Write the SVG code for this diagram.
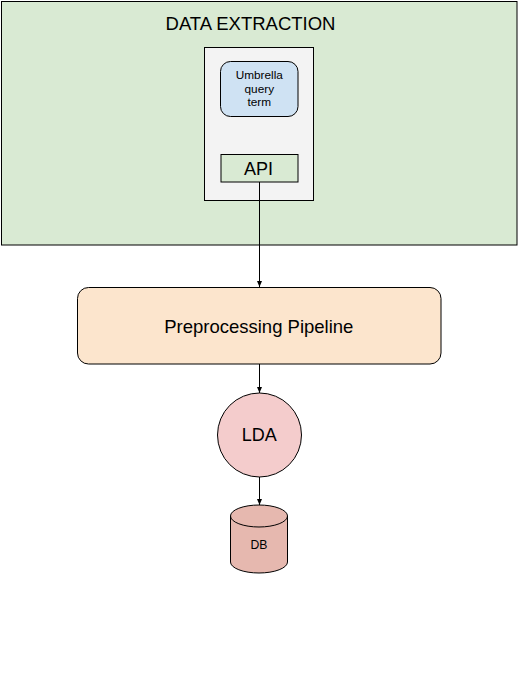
<svg xmlns="http://www.w3.org/2000/svg" width="518" height="680" viewBox="0 0 518 680">
<style>
text{font-family:"Liberation Sans",Arial,sans-serif;fill:#000;text-anchor:middle}
.s{stroke:#000;stroke-width:1}
</style>
<defs>
<marker id="arr" markerWidth="8" markerHeight="8" refX="7" refY="4" orient="auto" markerUnits="userSpaceOnUse">
<path d="M1,1.5 L7,4 L1,6.5 z" fill="#000"/>
</marker>
</defs>
<rect width="518" height="680" fill="#fff"/>
<g id="data-extraction">
<rect class="s" x="1.5" y="1.5" width="515.5" height="243.5" fill="#d9ead3" stroke-width="1.5"/>
<text x="250.5" y="30" font-size="18.5">DATA EXTRACTION</text>
</g>
<g id="source-box">
<rect class="s" x="204.5" y="47.5" width="109" height="153" fill="#f3f3f3"/>
</g>
<g id="umbrella">
<rect class="s" x="220.5" y="61.5" width="77.5" height="55" rx="10" fill="#cfe2f3"/>
<text x="259.3" y="79" font-size="11.8">Umbrella</text>
<text x="259.3" y="92.5" font-size="11.8">query</text>
<text x="259.3" y="106" font-size="11.8">term</text>
</g>
<g id="api">
<rect class="s" x="221" y="154.5" width="77" height="27.5" fill="#d9ead3"/>
<text x="258.5" y="175" font-size="18">API</text>
</g>
<g id="preprocessing">
<rect class="s" x="77.5" y="287.5" width="363.5" height="76.5" rx="11" fill="#fce5cd"/>
<text x="258.8" y="333" font-size="18.5">Preprocessing Pipeline</text>
</g>
<g id="lda">
<circle class="s" cx="259.5" cy="435" r="42" fill="#f4cccc"/>
<text x="259.3" y="441" font-size="18">LDA</text>
</g>
<g id="db">
<path class="s" d="M230.5,516 L230.5,562 A28.5,11 0 0 0 287.5,562 L287.5,516 A28.5,11 0 0 0 230.5,516 Z" fill="#e6b8af"/>
<path class="s" d="M230.5,516 A28.5,11 0 0 0 287.5,516" fill="none"/>
<text x="259" y="549" font-size="12.2">DB</text>
</g>
<g id="connectors" class="s" fill="none">
<line x1="259.5" y1="182" x2="259.5" y2="287" marker-end="url(#arr)"/>
<line x1="259.5" y1="364" x2="259.5" y2="393" marker-end="url(#arr)"/>
<line x1="259.5" y1="477" x2="259.5" y2="505" marker-end="url(#arr)"/>
</g>
</svg>
